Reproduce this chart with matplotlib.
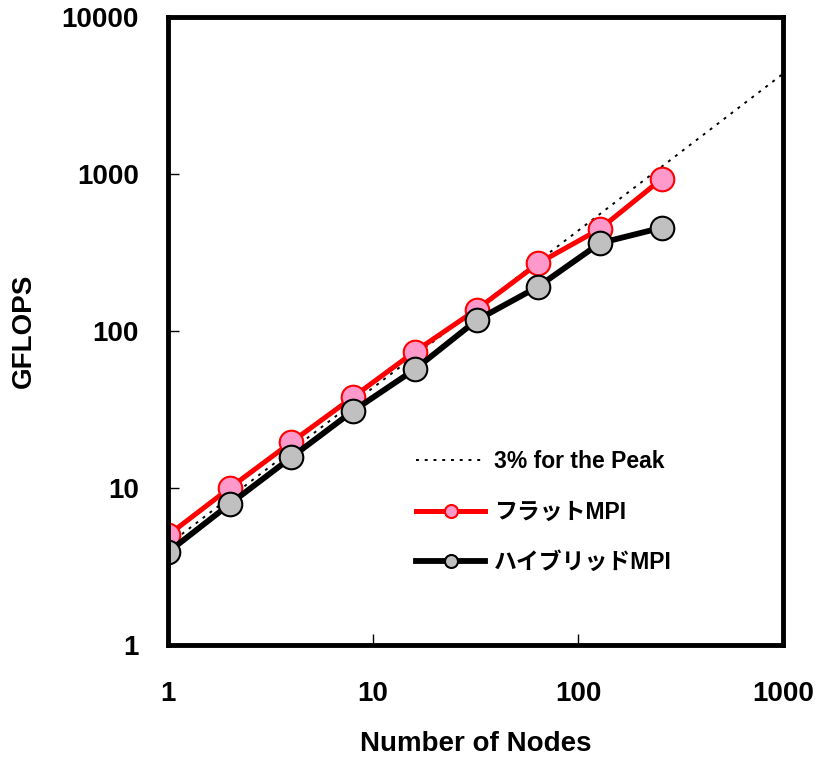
import matplotlib
matplotlib.use("Agg")
import matplotlib.pyplot as plt
import numpy as np

plt.rcParams['font.family'] = ['Liberation Sans', 'Noto Sans CJK JP']
plt.rcParams['font.weight'] = 'bold'

nodes = [1, 2, 4, 8, 16, 32, 64, 128, 256]
flat_mpi = [5.0, 10.0, 19.6, 38, 74, 137, 270, 447, 930]
hybrid_mpi = [3.9, 7.9, 15.7, 31, 57, 117, 192, 363, 455]
peak_x = [1, 1000]
peak_y = [4.35, 4350]

labels = ['3% for the Peak', 'フラットMPI', 'ハイブリッドMPI']

fig = plt.figure(figsize=(8.17, 7.6), dpi=100)
ax = fig.add_axes([0.2056, 0.1513, 0.7528, 0.8263])

ax.plot(peak_x, peak_y, color='black', lw=1.4, ls=(0, (1.5, 3)), label=labels[0])
ax.plot(nodes, flat_mpi, color='#ff0000', lw=3.6, marker='o', ms=17,
        mfc='#ff99cc', mec='#ff0000', mew=1.5, label=labels[1])
ax.plot(nodes, hybrid_mpi, color='black', lw=4.2, marker='o', ms=17,
        mfc='#c0c0c0', mec='black', mew=1.5, label=labels[2])

ax.set_xscale('log')
ax.set_yscale('log')
ax.set_xlim(1, 1000)
ax.set_ylim(1, 10000)
ax.set_xticks([1, 10, 100, 1000])
ax.set_xticklabels(['1', '10', '100', '1000'])
ax.set_yticks([1, 10, 100, 1000, 10000])
ax.set_yticklabels(['1', '10', '100', '1000', '10000'])
ax.minorticks_off()
ax.tick_params(direction='in', length=8, width=1, labelsize=20, pad=21)
ax.tick_params(axis='x', pad=26)
for s in ax.spines.values():
    s.set_linewidth(3.5)

ax.set_xlabel('Number of Nodes', fontsize=20, fontweight='bold', labelpad=17)
ax.set_ylabel('GFLOPS', fontsize=20, fontweight='bold', labelpad=18)

leg = ax.legend(loc='lower left', bbox_to_anchor=(0.37, 0.08), frameon=False,
                fontsize=16.5, markerscale=0.55, handlelength=3.0,
                labelspacing=1.2, handletextpad=0.4)

fig.savefig('out.png', dpi=100)
